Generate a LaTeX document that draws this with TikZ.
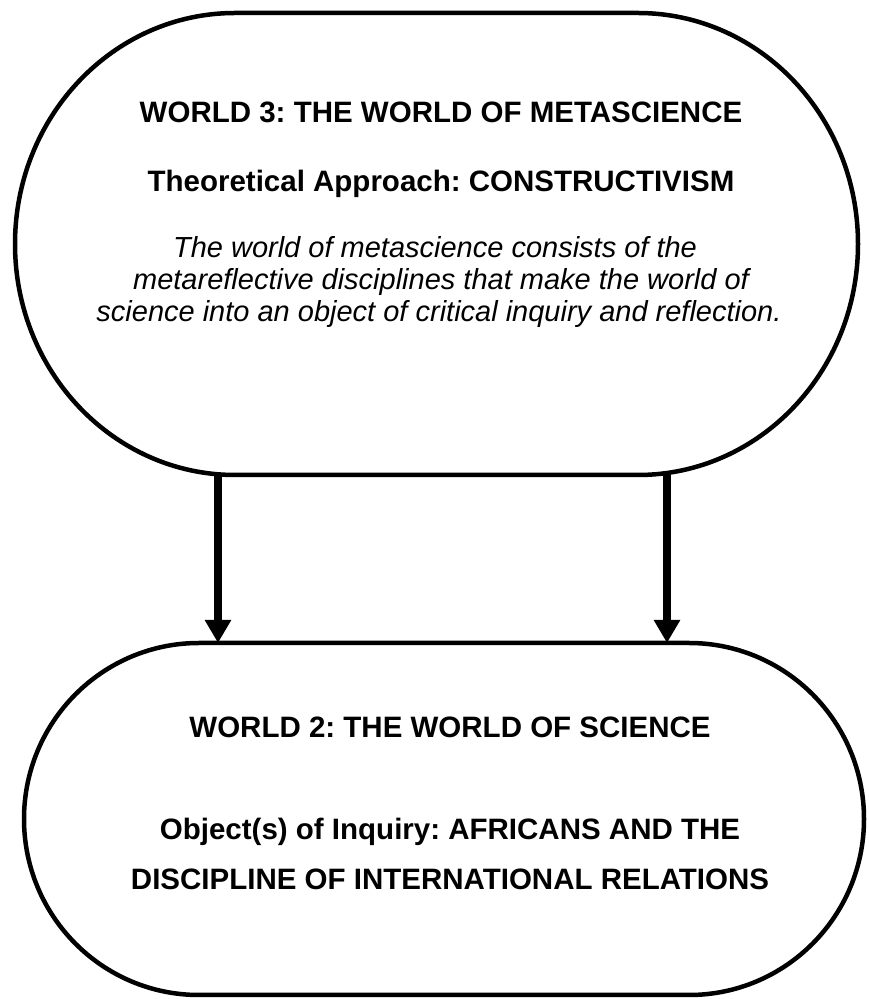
\documentclass[tikz,border=0pt]{standalone}
\usepackage{fontspec}
\setmainfont{Liberation Sans}
\usetikzlibrary{arrows.meta}
\frenchspacing
\begin{document}
\begin{tikzpicture}[x=1pt,y=1pt,
  world/.style={draw=none,minimum width=#1,inner sep=0pt,outer sep=0pt},
  outline/.style={line width=4.5pt,black},
  flow/.style={line width=8pt,-{Triangle[length=23pt,width=25pt]}},
  head/.style={anchor=base,font=\fontsize{29.5}{34}\selectfont\bfseries},
  gloss/.style={anchor=base,font=\fontsize{29}{32}\selectfont\itshape}]
\useasboundingbox (0,0) rectangle (868,999);

% World 3 box (stadium with elliptical ends)
\node[world=843pt,minimum height=462pt] (w3) at (436.5,755) {};
\draw[outline] ([xshift=220pt]w3.north west) -- ([xshift=-220pt]w3.north east)
  arc[start angle=90,end angle=-90,x radius=220pt,y radius=231pt]
  -- ([xshift=220pt]w3.south west)
  arc[start angle=270,end angle=90,x radius=220pt,y radius=231pt] -- cycle;

% World 2 box
\node[world=840pt,minimum height=352pt] (w2) at (444,180) {};
\draw[outline] ([xshift=175pt]w2.north west) -- ([xshift=-175pt]w2.north east)
  arc[start angle=90,end angle=-90,x radius=175pt,y radius=176pt]
  -- ([xshift=175pt]w2.south west)
  arc[start angle=270,end angle=90,x radius=175pt,y radius=176pt] -- cycle;

% Texts of World 3
\node[head] (t1) at (441,876) {WORLD 3: THE WORLD OF METASCIENCE};
\node[head] (t2) at (441,807) {Theoretical Approach: CONSTRUCTIVISM};
\node[gloss] (t3) at (435,741) {The world of metascience consists of the};
\node[gloss] (t4) at (441,709) {metareflective disciplines that make the world of};
\node[gloss] (t5) at (439,677) {science into an object of critical inquiry and reflection.};

% Texts of World 2
\node[head] (b1) at (450,261) {WORLD 2: THE WORLD OF SCIENCE};
\node[head] (b2) at (450,159) {Object(s) of Inquiry: AFRICANS AND THE};
\node[head] (b3) at (450,109) {DISCIPLINE OF INTERNATIONAL RELATIONS};

% Connectors
\draw[flow] (w3.south -| 218,0) -- (w2.north -| 218,0);
\draw[flow] (w3.south -| 667,0) -- (w2.north -| 667,0);
\end{tikzpicture}
\end{document}
